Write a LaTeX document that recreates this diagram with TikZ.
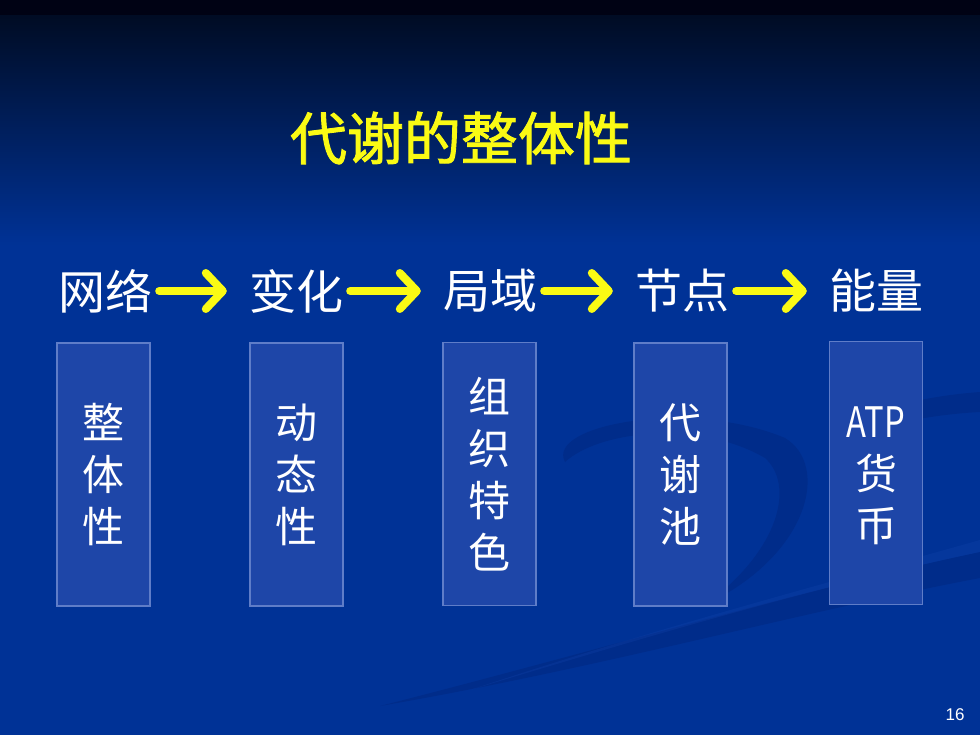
\documentclass[tikz,border=0pt]{standalone}
\usepackage{fontspec}
\newfontfamily\cjk{Noto Sans CJK SC}
\newfontfamily\cjkbf[FakeBold=1.6]{Noto Sans CJK SC}
\newfontfamily\arialfont{Liberation Sans}
\usetikzlibrary{arrows.meta}
\definecolor{band}{RGB}{0,2,20}
\definecolor{bgtop}{RGB}{0,12,36}
\definecolor{bgbot}{RGB}{0,50,150}
\definecolor{boxfill}{RGB}{30,70,168}
\definecolor{boxedge}{RGB}{95,125,200}
\definecolor{swirl}{RGB}{0,28,105}
\definecolor{swirllight}{RGB}{20,70,175}
\definecolor{titley}{RGB}{250,250,20}
\definecolor{titleedge}{RGB}{150,140,10}
\tikzset{
  lbl/.style={text=white, inner sep=0pt, font=\cjk\fontsize{47}{47}\selectfont},
  panel/.style={draw=boxedge, fill=boxfill, line width=1.4pt, minimum width=93pt,
    minimum height=263pt, inner sep=0pt, text=white, align=center,
    font=\cjk\fontsize{42}{52}\selectfont},
  yarrow/.style={draw=titley, line width=8pt, line cap=round,
    -{Straight Barb[length=17pt, width=36pt, round]},
    shorten <=7pt, shorten >=22pt},
  swoosh/.style={fill=swirl, opacity=0.25},
}
\begin{document}
\begin{tikzpicture}[x=1pt, y=-1pt]
\useasboundingbox (0,0) rectangle (980,735);
% background
\fill[bgbot] (0,0) rectangle (980,735);
\shade[top color=bgtop, bottom color=bgbot] (0,15) rectangle (980,245);
\fill[band] (0,0) rectangle (980,15);
% swooshes
\fill[swoosh] (565,462) .. controls (545,425) and (690,398) .. (785,438)
  .. controls (830,465) and (810,555) .. (705,605)
  .. controls (780,550) and (795,485) .. (765,458)
  .. controls (700,420) and (600,430) .. (565,462) -- cycle;
\fill[swoosh] (980,392) .. controls (900,398) and (840,420) .. (830,445)
  .. controls (860,430) and (920,415) .. (980,412) -- cycle;
\fill[swoosh] (380,706) .. controls (600,650) and (800,590) .. (980,552)
  -- (980,578) .. controls (800,612) and (600,668) .. (380,706) -- cycle;
\fill[swirllight, opacity=0.25] (470,690) .. controls (650,630) and (820,585) .. (980,540)
  -- (980,552) .. controls (800,590) and (620,645) .. (470,690) -- cycle;
% title
\node[text=titley, font=\cjkbf\fontsize{57}{57}\selectfont] (title) at (461,138) {代谢的整体性};
% row labels
\node[lbl] (l1) at (105,291) {网络};
\node[lbl] (l2) at (296,291) {变化};
\node[lbl] (l3) at (490,291) {局域};
\node[lbl] (l4) at (682,291) {节点};
\node[lbl] (l5) at (876,291) {能量};
% boxes
\node[panel] (b1) at (103.5,474.5) {整\\体\\性};
\node[panel] (b2) at (296.5,474.5) {动\\态\\性};
\node[panel] (b3) at (489.5,474) {组\\织\\特\\色};
\node[panel] (b4) at (680.5,474.5) {代\\谢\\池};
\node[panel] (b5) at (876,473) {\vphantom{货}\scalebox{0.78}[1]{ATP}\\货\\币};
% arrows
\draw[yarrow] (l1.east) -- (l2.west);
\draw[yarrow] (l2.east) -- (l3.west);
\draw[yarrow] (l3.east) -- (l4.west);
\draw[yarrow] (l4.east) -- (l5.west);
% page number
\node[text=white, font=\arialfont\fontsize{17}{17}\selectfont] (pg) at (955,715) {16};
\end{tikzpicture}
\end{document}
